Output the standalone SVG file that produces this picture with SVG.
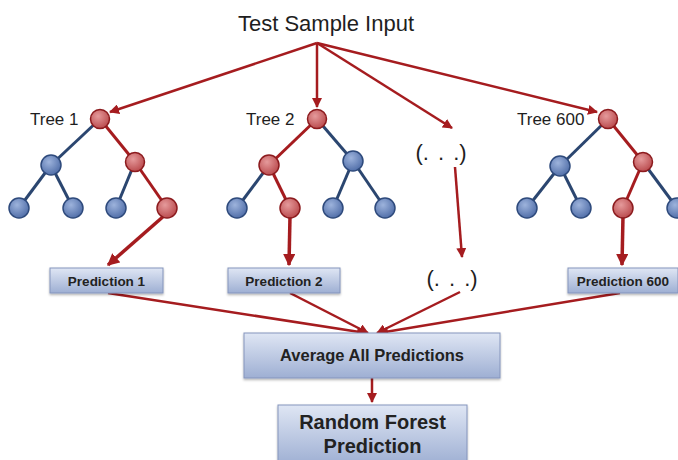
<svg xmlns="http://www.w3.org/2000/svg" width="678" height="460" viewBox="0 0 678 460">
<style>
.bl{stroke:#2b4670;stroke-width:3;fill:none}
.rl{stroke:#a51c1f;stroke-width:3;fill:none}
.bn{fill:url(#gb);stroke:#2e4a7c;stroke-width:1.5}
.rn{fill:url(#gr);stroke:#8c1b1e;stroke-width:1.5}
.ar{stroke:#a51c1f;stroke-width:2.5;fill:none;marker-end:url(#ah)}
.art{stroke:#a51c1f;stroke-width:3.5;fill:none;marker-end:url(#ah2)}
.box{fill:url(#gx);stroke:#8595bd;stroke-width:1;filter:url(#sh)}
.lbl{font-family:"Liberation Sans",Arial,sans-serif;fill:#1e1e1e}
.el{font-family:"Liberation Sans",Arial,sans-serif;fill:#1e1e1e;font-size:22px;text-anchor:middle;word-spacing:3px}
.bt{font-family:"Liberation Sans",Arial,sans-serif;font-weight:bold;fill:#222;text-anchor:middle}
</style>
<defs>
<radialGradient id="gb" cx="0.4" cy="0.35" r="0.7"><stop offset="0" stop-color="#9db3dc"/><stop offset="1" stop-color="#4d6ba6"/></radialGradient>
<radialGradient id="gr" cx="0.4" cy="0.35" r="0.7"><stop offset="0" stop-color="#e59a9b"/><stop offset="1" stop-color="#b8474a"/></radialGradient>
<linearGradient id="gx" x1="0" y1="0" x2="0" y2="1"><stop offset="0" stop-color="#dfe6f4"/><stop offset="1" stop-color="#9eafd3"/></linearGradient>
<filter id="sh" x="-5%" y="-10%" width="110%" height="130%"><feDropShadow dx="0" dy="1.5" stdDeviation="1.2" flood-color="#000" flood-opacity="0.3"/></filter>
<marker id="ah" viewBox="0 0 10 10" refX="9" refY="5" markerWidth="4" markerHeight="4" orient="auto" markerUnits="strokeWidth"><path d="M0,0 L10,5 L0,10 z" fill="#a51c1f"/></marker>
<marker id="ah2" viewBox="0 0 10 10" refX="9" refY="5" markerWidth="3.5" markerHeight="3.5" orient="auto" markerUnits="strokeWidth"><path d="M0,0 L10,5 L0,10 z" fill="#a51c1f"/></marker>
</defs>
<rect width="678" height="460" fill="#ffffff"/>

<text class="lbl" x="326" y="31" font-size="22" text-anchor="middle">Test Sample Input</text>

<g id="connectors">
<line class="ar" x1="317" y1="43" x2="110" y2="112"/>
<line class="ar" x1="317" y1="43" x2="317" y2="107"/>
<line class="ar" x1="317" y1="43" x2="452" y2="128"/>
<line class="ar" x1="317" y1="43" x2="597" y2="112"/>
<line class="ar" x1="455" y1="167" x2="462" y2="257"/>
<line class="art" x1="165" y1="215" x2="108" y2="265"/>
<line class="art" x1="290" y1="216" x2="289" y2="265"/>
<line class="art" x1="623" y1="216" x2="622" y2="265"/>
<line class="ar" x1="108" y1="293" x2="366" y2="333"/>
<line class="ar" x1="290" y1="293" x2="368" y2="333"/>
<line class="ar" x1="460" y1="292" x2="377" y2="333"/>
<line class="ar" x1="620" y1="293" x2="379" y2="333"/>
<line class="ar" x1="372" y1="378" x2="372" y2="402"/>
</g>

<g id="tree1">
<text class="lbl" x="30" y="125" font-size="17">Tree 1</text>
<line class="bl" x1="100" y1="119" x2="51" y2="165"/>
<line class="bl" x1="51" y1="165" x2="19" y2="208"/>
<line class="bl" x1="51" y1="165" x2="73" y2="208"/>
<line class="bl" x1="135" y1="162" x2="116" y2="208"/>
<line class="rl" x1="100" y1="119" x2="135" y2="162"/>
<line class="rl" x1="135" y1="162" x2="167" y2="208"/>
<circle class="rn" cx="100" cy="119" r="9.5"/>
<circle class="bn" cx="51" cy="165" r="10"/>
<circle class="rn" cx="135" cy="162" r="9.5"/>
<circle class="bn" cx="19" cy="208" r="10"/>
<circle class="bn" cx="73" cy="208" r="10"/>
<circle class="bn" cx="116" cy="208" r="10"/>
<circle class="rn" cx="167" cy="208" r="10"/>
</g>

<g id="tree2">
<text class="lbl" x="246" y="125" font-size="17">Tree 2</text>
<line class="bl" x1="317" y1="119" x2="353" y2="161"/>
<line class="bl" x1="353" y1="161" x2="333" y2="208"/>
<line class="bl" x1="353" y1="161" x2="385" y2="208"/>
<line class="bl" x1="269" y1="165" x2="237" y2="208"/>
<line class="rl" x1="317" y1="119" x2="269" y2="165"/>
<line class="rl" x1="269" y1="165" x2="290" y2="208"/>
<circle class="rn" cx="317" cy="119" r="9.5"/>
<circle class="rn" cx="269" cy="165" r="10"/>
<circle class="bn" cx="353" cy="161" r="10"/>
<circle class="bn" cx="237" cy="208" r="10"/>
<circle class="rn" cx="290" cy="208" r="10"/>
<circle class="bn" cx="333" cy="208" r="10"/>
<circle class="bn" cx="385" cy="208" r="10"/>
</g>

<g id="ellipsis-top"><text class="el" x="441" y="160">(. . .)</text></g>

<g id="tree600">
<text class="lbl" x="517" y="125" font-size="17">Tree 600</text>
<line class="bl" x1="608" y1="119" x2="560" y2="166"/>
<line class="bl" x1="560" y1="166" x2="527" y2="208"/>
<line class="bl" x1="560" y1="166" x2="581" y2="208"/>
<line class="bl" x1="643" y1="162" x2="677" y2="208"/>
<line class="rl" x1="608" y1="119" x2="643" y2="162"/>
<line class="rl" x1="643" y1="162" x2="623" y2="208"/>
<circle class="rn" cx="608" cy="119" r="9.5"/>
<circle class="bn" cx="560" cy="166" r="10"/>
<circle class="rn" cx="643" cy="162" r="9.5"/>
<circle class="bn" cx="527" cy="208" r="10"/>
<circle class="bn" cx="581" cy="208" r="10"/>
<circle class="rn" cx="623" cy="208" r="10"/>
<circle class="bn" cx="677" cy="208" r="10"/>
</g>

<g id="pred1"><rect class="box" x="50" y="268" width="113" height="25"/><text class="bt" x="106.5" y="285.5" font-size="13.5">Prediction 1</text></g>
<g id="pred2"><rect class="box" x="228" y="268" width="112" height="25"/><text class="bt" x="284" y="285.5" font-size="13.5">Prediction 2</text></g>
<g id="ellipsis-bottom"><text class="el" x="452" y="286">(. . .)</text></g>
<g id="pred600"><rect class="box" x="568" y="268" width="110" height="25"/><text class="bt" x="623" y="285.5" font-size="13.5">Prediction 600</text></g>

<g id="average"><rect class="box" x="244" y="333" width="256" height="45"/><text class="bt" x="372" y="361" font-size="16.5">Average All Predictions</text></g>
<g id="final"><rect class="box" x="278" y="405" width="189" height="60"/><text class="bt" x="372.5" y="429" font-size="20">Random Forest</text><text class="bt" x="372.5" y="453" font-size="20">Prediction</text></g>
</svg>
